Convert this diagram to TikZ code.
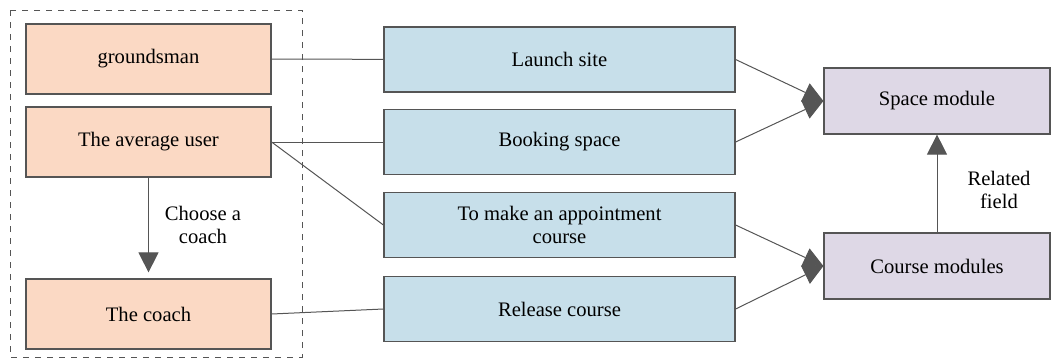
\documentclass[tikz,border=0pt]{standalone}
\usepackage{fontspec}
\setmainfont{Liberation Serif}
\usetikzlibrary{arrows.meta}

\definecolor{userfill}{HTML}{FBD9C4}
\definecolor{funcfill}{HTML}{C7DFEA}
\definecolor{modfill}{HTML}{DED8E6}
\definecolor{edge}{HTML}{555555}
\definecolor{tip}{HTML}{33373A}

\begin{document}
\begin{tikzpicture} [
  x=0.5pt,
  y=-0.5pt,
  font=\fontsize{10.3}{11.8}\selectfont,
  user/.style={draw=edge, fill=userfill, line width=0.6pt, minimum width=122.5pt, minimum height=35pt, inner sep=0pt},
  func/.style={draw=edge, fill=funcfill, line width=0.6pt, minimum width=175.5pt, minimum height=32.5pt, inner sep=0pt, align=center},
  module/.style={draw=edge, fill=modfill, line width=0.6pt, minimum width=113pt, minimum height=33pt, inner sep=0pt},
  link/.style={draw=edge, line width=0.5pt},
  head/.style={link, -{Triangle[length=10pt, width=10pt]}, tip}
  ]
  \useasboundingbox (0,0) rectangle (1060,364);
  \draw[edge, dashed, line width=0.5pt] (10,10) rectangle (302,357);

  \node(ground)[user, at={(148.5,59)}]{groundsman};
  \node(average)[user, at={(148.5,142)}]{The average user};
  \node(coach)[user, at={(148.5,314)}]{The coach};

  \node(launch)[func, at={(559.5,59.5)}]{Launch site};
  \node(booking)[func, at={(559.5,142)}]{Booking space};
  \node(appoint)[func, at={(559.5,225)}]{To make an appointment\\course};
  \node(release)[func, at={(559.5,309)}]{Release course};

  \node(space)[module, at={(937,101)}]{Space module};
  \node(course)[module, at={(937,266)}]{Course modules};

  \node(choose)[align=center, at={(203,225)}]{Choose a\\coach};
  \node(related)[align=center, at={(999,190)}]{Related\\field};

  \draw[link] (ground) -- (launch);
  \draw[link] (average.east) -- (booking.west);
  \draw[link] (average.east) -- (appoint.west);
  \draw[link] (coach.east) -- (release.west);
  \draw[head, draw=edge, shorten >=3pt] (average) -- (coach);

  \draw[head, draw=edge] (launch.east) -- (space.west);
  \draw[head, draw=edge] (booking.east) -- (space.west);
  \draw[head, draw=edge] (appoint.east) -- (course.west);
  \draw[head, draw=edge] (release.east) -- (course.west);
  \draw[head, draw=edge] (course) -- (space);
\end{tikzpicture}
\end{document}
